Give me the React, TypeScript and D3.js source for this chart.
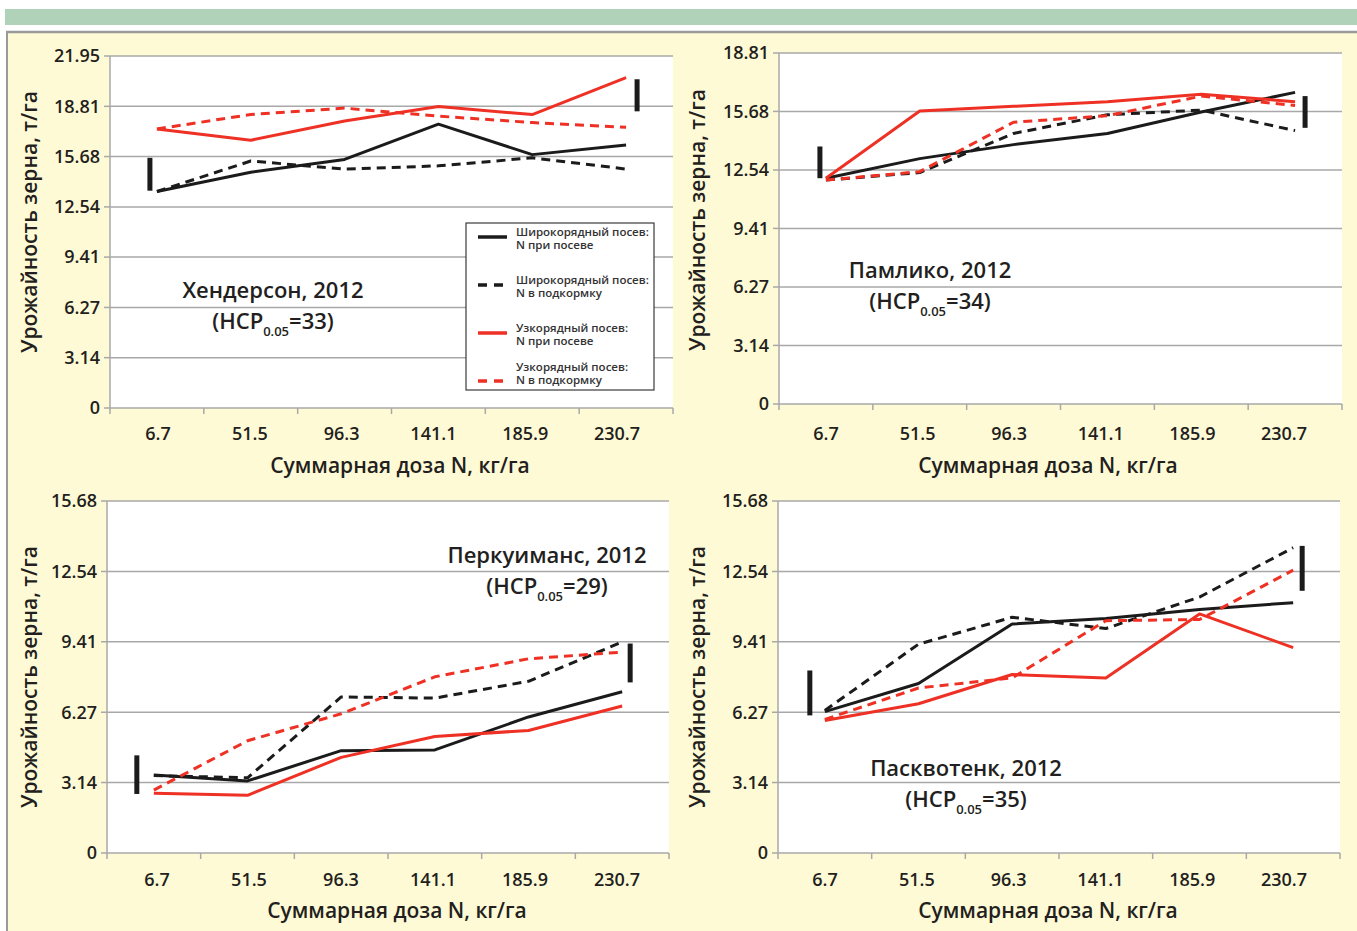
import React from "react";
import * as d3 from "d3";

// ---------- DATA ----------
const categories = ["6.7", "51.5", "96.3", "141.1", "185.9", "230.7"];

const legendLabels = [
  ["Широкорядный посев:", "N при посеве"],
  ["Широкорядный посев:", "N в подкормку"],
  ["Узкорядный посев:", "N при посеве"],
  ["Узкорядный посев:", "N в подкормку"],
];

const ticksHigh = [0, 3.14, 6.27, 9.41, 12.54, 15.68, 18.81, 21.95];
const ticksMid = [0, 3.14, 6.27, 9.41, 12.54, 15.68, 18.81];
const ticksLow = [0, 3.14, 6.27, 9.41, 12.54, 15.68];

// Хендерсон
const hendersonWideAtSowing = [13.5, 14.7, 15.5, 17.7, 15.8, 16.4];
const hendersonWideSidedress = [13.5, 15.4, 14.9, 15.1, 15.6, 14.9];
const hendersonNarrowAtSowing = [17.4, 16.7, 17.9, 18.8, 18.3, 20.6];
const hendersonNarrowSidedress = [17.4, 18.3, 18.7, 18.2, 17.8, 17.5];
const hendersonLsdBars = [[13.55, 15.6], [18.5, 20.5]];

// Памлико
const pamlicoWideAtSowing = [12.1, 13.15, 13.9, 14.5, 15.65, 16.7];
const pamlicoWideSidedress = [12.0, 12.4, 14.5, 15.5, 15.75, 14.65];
const pamlicoNarrowAtSowing = [12.1, 15.7, 15.95, 16.2, 16.6, 16.2];
const pamlicoNarrowSidedress = [12.0, 12.45, 15.1, 15.45, 16.5, 16.0];
const pamlicoLsdBars = [[12.1, 13.8], [14.8, 16.5]];

// Перкуиманс
const perquimansWideAtSowing = [3.47, 3.21, 4.56, 4.59, 6.06, 7.18];
const perquimansWideSidedress = [3.45, 3.35, 6.95, 6.9, 7.65, 9.4];
const perquimansNarrowAtSowing = [2.66, 2.57, 4.26, 5.19, 5.46, 6.55];
const perquimansNarrowSidedress = [2.8, 5.0, 6.2, 7.85, 8.65, 8.95];
const perquimansLsdBars = [[2.63, 4.35], [7.6, 9.33]];

// Пасквотенк
const pasquotankWideAtSowing = [6.3, 7.55, 10.2, 10.45, 10.85, 11.15];
const pasquotankWideSidedress = [6.35, 9.3, 10.5, 10.0, 11.4, 13.6];
const pasquotankNarrowAtSowing = [5.9, 6.65, 7.95, 7.8, 10.65, 9.15];
const pasquotankNarrowSidedress = [5.95, 7.35, 7.8, 10.35, 10.4, 12.6];
const pasquotankLsdBars = [[6.13, 8.13], [11.68, 13.68]];

const yTitle = "Урожайность зерна, т/га";
const xTitle = "Суммарная доза N, кг/га";

// ---------- STYLE ----------
const FONT = "'Open Sans', 'Noto Sans', sans-serif";
const TEXT = "#231f20";
const RED = "#ee3124";
const BLACK = "#1b1b1b";
const GRID = "#a8a8a8";
const seriesStyles = [
  { color: BLACK, dash: null },
  { color: BLACK, dash: "9,6" },
  { color: RED, dash: null },
  { color: RED, dash: "9,6" },
];

type Panel = {
  x0: number; x1: number; yTop: number; yBottom: number;
  ticks: number[];
  series: number[][];
  lsd: number[][];
  lsdOffsets: [number, number];
  labelInset: [number, number];
  tickLabelY: number; xTitleX: number; xTitleY: number;
  site: string; lsdValue: string;
  noteX: number; noteY: number;
  yTitleX: number; yTitleY: number;
  legend?: boolean;
};

const panels: Panel[] = [
  {
    x0: 110, x1: 673, yTop: 56, yBottom: 408, ticks: ticksHigh,
    series: [hendersonWideAtSowing, hendersonWideSidedress, hendersonNarrowAtSowing, hendersonNarrowSidedress],
    lsd: hendersonLsdBars, lsdOffsets: [-7, 11], labelInset: [48, 56],
    tickLabelY: 434, xTitleX: 400, xTitleY: 466,
    site: "Хендерсон, 2012", lsdValue: "33", noteX: 273, noteY: 298,
    yTitleX: 30, yTitleY: 222, legend: true,
  },
  {
    x0: 779, x1: 1342, yTop: 53, yBottom: 404, ticks: ticksMid,
    series: [pamlicoWideAtSowing, pamlicoWideSidedress, pamlicoNarrowAtSowing, pamlicoNarrowSidedress],
    lsd: pamlicoLsdBars, lsdOffsets: [-6, 10], labelInset: [47, 58],
    tickLabelY: 434, xTitleX: 1048, xTitleY: 466,
    site: "Памлико, 2012", lsdValue: "34", noteX: 930, noteY: 278,
    yTitleX: 698, yTitleY: 220,
  },
  {
    x0: 107, x1: 669, yTop: 501, yBottom: 853, ticks: ticksLow,
    series: [perquimansWideAtSowing, perquimansWideSidedress, perquimansNarrowAtSowing, perquimansNarrowSidedress],
    lsd: perquimansLsdBars, lsdOffsets: [-17, 8], labelInset: [50, 52],
    tickLabelY: 880, xTitleX: 397, xTitleY: 911,
    site: "Перкуиманс, 2012", lsdValue: "29", noteX: 547, noteY: 563,
    yTitleX: 30, yTitleY: 677,
  },
  {
    x0: 778, x1: 1340, yTop: 501, yBottom: 853, ticks: ticksLow,
    series: [pasquotankWideAtSowing, pasquotankWideSidedress, pasquotankNarrowAtSowing, pasquotankNarrowSidedress],
    lsd: pasquotankLsdBars, lsdOffsets: [-15, 9], labelInset: [47, 56],
    tickLabelY: 880, xTitleX: 1048, xTitleY: 911,
    site: "Пасквотенк, 2012", lsdValue: "35", noteX: 966, noteY: 776,
    yTitleX: 698, yTitleY: 677,
  },
];

function PanelView({ p }: { p: Panel }) {
  const x = d3.scaleBand<string>().domain(categories).range([p.x0, p.x1]).padding(0);
  const bw = x.bandwidth();
  const cx = (c: string) => (x(c) as number) + bw / 2;
  const xLabel = d3
    .scalePoint<string>()
    .domain(categories)
    .range([p.x0 + p.labelInset[0], p.x1 - p.labelInset[1]]);
  const yMax = p.ticks[p.ticks.length - 1];
  const y = d3.scaleLinear().domain([0, yMax]).range([p.yBottom, p.yTop]);
  const line = d3
    .line<number>()
    .x((_, i) => cx(categories[i]))
    .y((d) => y(d));
  const boundaries = categories.map((c) => x(c) as number).concat([p.x1]);
  const lsdX = [cx(categories[0]) + p.lsdOffsets[0], cx(categories[categories.length - 1]) + p.lsdOffsets[1]];

  return (
    <g>
      <rect x={p.x0} y={p.yTop} width={p.x1 - p.x0} height={p.yBottom - p.yTop} fill="#ffffff" />
      {p.ticks.map((t) => (
        <g key={t}>
          {t > 0 && (
            <line x1={p.x0} x2={p.x1} y1={y(t)} y2={y(t)} stroke={GRID} strokeWidth={1.5} />
          )}
          <line x1={p.x0 - 6} x2={p.x0} y1={y(t)} y2={y(t)} stroke={GRID} strokeWidth={1.5} />
          <text x={p.x0 - 10} y={y(t)} dy="0.35em" textAnchor="end" fontSize={18} fontWeight={600} fill={TEXT}>
            {t === 0 ? "0" : t.toFixed(2)}
          </text>
        </g>
      ))}
      <line x1={p.x0} x2={p.x0} y1={p.yTop} y2={p.yBottom} stroke={GRID} strokeWidth={1.5} />
      <line x1={p.x0} x2={p.x1} y1={p.yBottom} y2={p.yBottom} stroke={GRID} strokeWidth={1.5} />
      {boundaries.map((b, i) => (
        <line key={i} x1={b} x2={b} y1={p.yBottom} y2={p.yBottom + 6} stroke={GRID} strokeWidth={1.5} />
      ))}
      {categories.map((c) => (
        <text key={c} x={xLabel(c)} y={p.tickLabelY} dy="0.35em" textAnchor="middle" fontSize={18} fontWeight={600} fill={TEXT}>
          {c}
        </text>
      ))}
      <text x={p.xTitleX} y={p.xTitleY} dy="0.35em" textAnchor="middle" fontSize={21} fontWeight={600} fill={TEXT}>
        {xTitle}
      </text>
      <text
        transform={`translate(${p.yTitleX},${p.yTitleY}) rotate(-90)`}
        textAnchor="middle"
        dy="0.35em"
        fontSize={21}
        fontWeight={600}
        fill={TEXT}
      >
        {yTitle}
      </text>
      {p.series.map((s, i) => (
        <path
          key={i}
          d={line(s) as string}
          fill="none"
          stroke={seriesStyles[i].color}
          strokeWidth={3}
          strokeDasharray={seriesStyles[i].dash ?? undefined}
          strokeLinejoin="round"
        />
      ))}
      {p.lsd.map((b, i) => (
        <rect key={i} x={lsdX[i] - 2.5} y={y(b[1])} width={5} height={y(b[0]) - y(b[1])} fill={BLACK} />
      ))}
      <text x={p.noteX} y={p.noteY} textAnchor="middle" fontSize={22} fontWeight={600} fill={TEXT}>
        {p.site}
      </text>
      <text x={p.noteX} y={p.noteY + 31} textAnchor="middle" fontSize={22} fontWeight={600} fill={TEXT}>
        (НСР
        <tspan fontSize={13} dy={7}>0.05</tspan>
        <tspan dy={-7}>={p.lsdValue})</tspan>
      </text>
      {p.legend && <Legend />}
    </g>
  );
}

function Legend() {
  const lx = 466, ly = 223, lw = 188, lh = 167;
  const rowY = [237, 285, 333, 381];
  return (
    <g>
      <rect x={lx} y={ly} width={lw} height={lh} fill="#ffffff" stroke="#3a3a3a" strokeWidth={1.2} />
      {legendLabels.map((lab, i) => (
        <g key={i}>
          <line
            x1={478}
            x2={507}
            y1={rowY[i]}
            y2={rowY[i]}
            stroke={seriesStyles[i].color}
            strokeWidth={3.5}
            strokeDasharray={seriesStyles[i].dash ? "9,7" : undefined}
          />
          <text x={516} y={rowY[i] - (i === 3 ? 10 : 1)} fontSize={11.5} fontWeight={600} fill="#333">
            {lab[0]}
          </text>
          <text x={516} y={rowY[i] + (i === 3 ? 3 : 12)} fontSize={11.5} fontWeight={600} fill="#333">
            {lab[1]}
          </text>
        </g>
      ))}
    </g>
  );
}

export default function App() {
  return (
    <svg
      width={1357}
      height={931}
      style={{ position: "absolute", left: 0, top: 0, fontFamily: FONT }}
    >
      <rect x={0} y={0} width={1357} height={931} fill="#ffffff" />
      <rect x={5} y={9} width={1352} height={16} fill="#b0d2b9" />
      <rect x={6} y={31} width={1351} height={900} fill="#fffad6" />
      <line x1={6} x2={1357} y1={32} y2={32} stroke="#9a9a9a" strokeWidth={2.5} />
      <line x1={7} x2={7} y1={31} y2={931} stroke="#9a9a9a" strokeWidth={2} />
      {panels.map((p, i) => (
        <PanelView key={i} p={p} />
      ))}
    </svg>
  );
}
